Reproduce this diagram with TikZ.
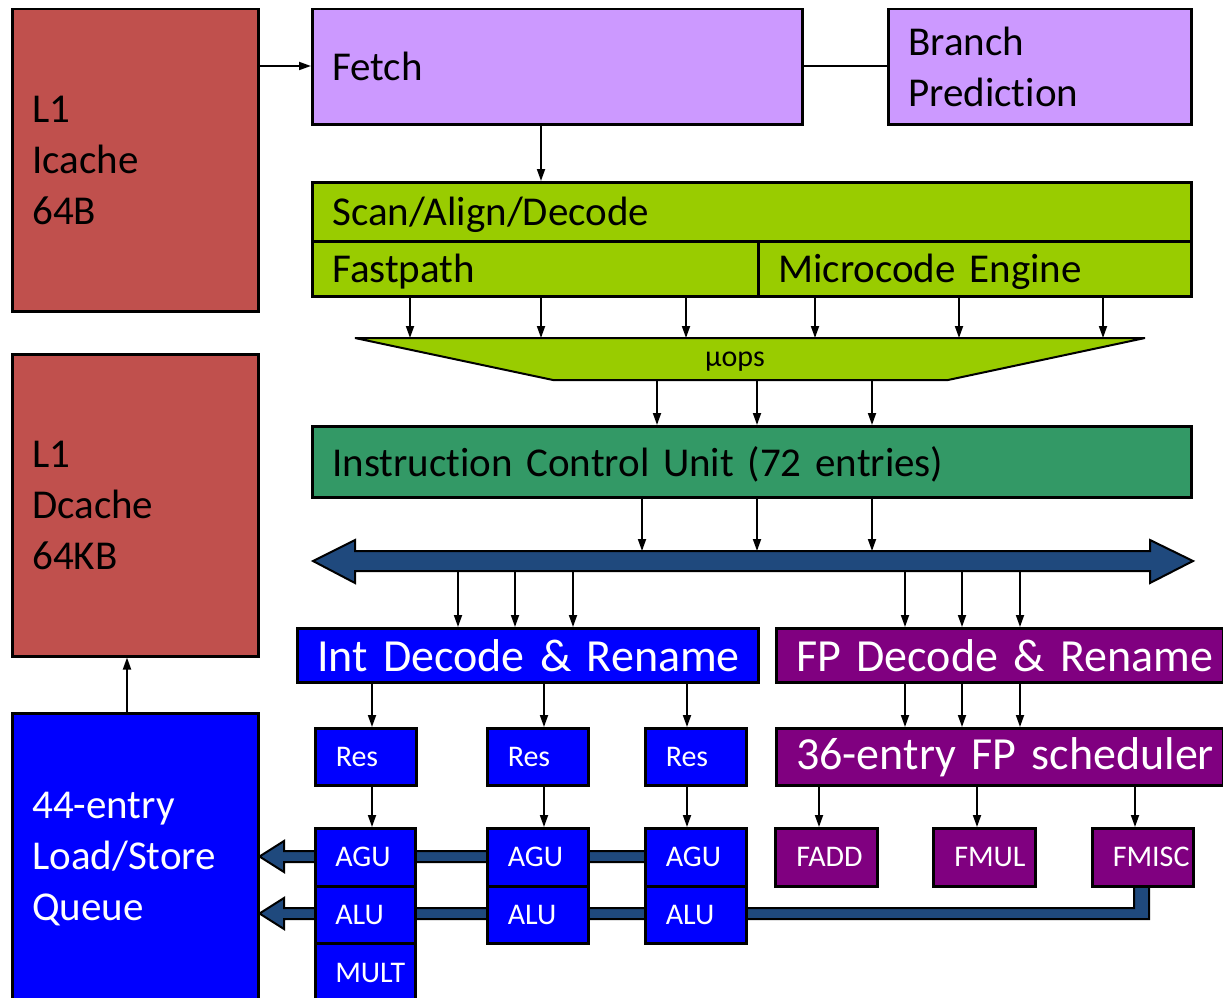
\documentclass[tikz,border=0pt]{standalone}
\usepackage{fontspec}
\setmainfont{Carlito}[Ligatures=NoCommon]
\usetikzlibrary{arrows.meta}
\definecolor{cacheRed}{HTML}{C0504D}
\definecolor{frontLav}{HTML}{CC99FF}
\definecolor{decGreen}{HTML}{99CC00}
\definecolor{icuGreen}{HTML}{339966}
\definecolor{intBlue}{HTML}{0000FF}
\definecolor{fpPurple}{HTML}{800080}
\definecolor{busBlue}{HTML}{1F497D}
\newcommand\txtMain{\fontsize{41}{51}\selectfont}
\newcommand\txtBig{\fontsize{46}{56}\selectfont}
\newcommand\txtUnit{\fontsize{30}{36}\selectfont}
\newcommand\txtOps{\fontsize{30}{36}\selectfont}
% nudge a single text line down without changing how the node centres it
\newcommand\lowered[1]{\raisebox{-3pt}[\height][\depth]{#1}}
\pgfdeclarelayer{back}
\pgfsetlayers{back,main}

\begin{document}
\begin{tikzpicture}[x=1pt,y=-1pt,
  box/.style={draw=black, line width=2.5pt, anchor=north west, inner xsep=20pt,
    inner ysep=0pt, align=left, font=\txtMain},
  unit/.style={box, font=\txtUnit, text=white, fill=intBlue, text width=60pt},
  fpunit/.style={unit, fill=fpPurple},
  arr/.style={-{Triangle[length=12pt,width=8pt]}, line width=1.8pt},
  link/.style={line width=1.8pt},
  fat/.style={fill=busBlue, draw=black, line width=2pt, line join=miter}
]
\useasboundingbox (0,0) rectangle (1223,998);

% caches
\node[box, fill=cacheRed, minimum width=246pt, minimum height=302pt, text width=206pt]
  (icache) at (11,8) {L1\\Icache\\64B};
\node[box, fill=cacheRed, minimum width=246pt, minimum height=302pt, text width=206pt]
  (dcache) at (11,353) {L1\\Dcache\\64KB};
\node[box, fill=intBlue, text=white, minimum width=246pt, minimum height=292pt, text width=206pt]
  (lsq) at (11,712) {44-entry\\Load/Store\\Queue};

% front end
\node[box, fill=frontLav, minimum width=490pt, minimum height=115pt, text width=450pt]
  (fetch) at (311,8) {Fetch};
\node[box, fill=frontLav, minimum width=303pt, minimum height=115pt, text width=263pt]
  (branch) at (887,8) {Branch\\Prediction};
\node[box, fill=decGreen, minimum width=879pt, minimum height=59pt, text width=839pt]
  (scan) at (311,181) {\lowered{Scan/Align/Decode}};
\node[box, fill=decGreen, minimum width=446pt, minimum height=55pt, text width=406pt]
  (fast) at (311,240) {\lowered{Fastpath}};
\node[box, fill=decGreen, minimum width=433pt, minimum height=55pt, text width=393pt]
  (micro) at (757,240) {\lowered{Microcode Engine}};

% micro-op funnel
\draw[fill=decGreen, line width=2pt, line join=bevel]
  (355,338) -- (1145,338) -- (948,380) -- (553,380) -- cycle;
\node[font=\txtOps, inner sep=0pt] (uops) at (735,362) {μops};
\coordinate (opsN) at (0,338);
\coordinate (opsS) at (0,380);

\node[box, fill=icuGreen, minimum width=879pt, minimum height=71pt, text width=839pt]
  (icu) at (311,425) {\lowered{Instruction Control Unit (72 entries)}};

% dispatch bus
\draw[fat] (313,561) -- (355,540) -- (355,551) -- (1150,551) -- (1150,540) -- (1193,561)
  -- (1150,583) -- (1150,571) -- (355,571) -- (355,583) -- cycle;
\coordinate (busN) at (0,551);
\coordinate (busS) at (0,571);

% integer side
\node[box, fill=intBlue, text=white, font=\txtBig, minimum width=461pt, minimum height=54pt, text width=421pt]
  (intdec) at (296,627) {\mbox{Int Decode \& Rename}};
\node[unit, minimum width=101pt, minimum height=57pt] (res1) at (314,727) {Res};
\node[unit, minimum width=101pt, minimum height=57pt] (res2) at (486,727) {Res};
\node[unit, minimum width=101pt, minimum height=57pt] (res3) at (644,727) {Res};
\node[unit, minimum width=100pt, minimum height=58pt] (agu1) at (314,827) {AGU};
\node[unit, minimum width=101pt, minimum height=58pt] (agu2) at (486,827) {AGU};
\node[unit, minimum width=101pt, minimum height=58pt] (agu3) at (644,827) {AGU};
\node[unit, minimum width=100pt, minimum height=57pt] (alu1) at (314,885) {ALU};
\node[unit, minimum width=101pt, minimum height=57pt] (alu2) at (486,885) {ALU};
\node[unit, minimum width=101pt, minimum height=57pt] (alu3) at (644,885) {ALU};
\node[unit, minimum width=100pt, minimum height=60pt] (mult) at (314,942) {\mbox{MULT}};

% floating-point side
\node[box, fill=fpPurple, text=white, font=\txtBig, minimum width=447pt, minimum height=54pt, text width=407pt]
  (fpdec) at (775,627) {\mbox{FP Decode \& Rename}};
\node[box, fill=fpPurple, text=white, font=\txtBig, minimum width=447pt, minimum height=57pt, text width=407pt]
  (fpsched) at (775,727) {\mbox{36-entry FP scheduler}};
\node[fpunit, minimum width=102pt, minimum height=58pt] (fadd) at (774,827) {\mbox{FADD}};
\node[fpunit, minimum width=102pt, minimum height=58pt] (fmul) at (932,827) {\mbox{FMUL}};
\node[fpunit, minimum width=101pt, minimum height=58pt] (fmisc) at (1091,827) {\mbox{FMISC}};

% result buses into the load/store queue
\begin{pgfonlayer}{back}
  \draw[fat] (agu3.center |- 0,851) -- (284,851) -- (284,841) -- (lsq.east |- 0,856.5)
    -- (284,872) -- (284,862) -- (agu3.center |- 0,862) -- cycle;
  \draw[fat] (fmisc.center -| 1149,0) -- (1149,919) -- (284,919) -- (284,929)
    -- (lsq.east |- 0,913.5) -- (284,898) -- (284,908) -- (1134,908)
    -- (fmisc.center -| 1134,0) -- cycle;
\end{pgfonlayer}

% connectors
\draw[arr] (icache.east |- 0,66) -- (fetch.west |- 0,66);
\draw[link] (fetch.east |- 0,66) -- (branch.west |- 0,66);
\draw[arr] (fetch.south -| 541,0) -- (scan.north -| 541,0);
\foreach \x in {410,541,686}
  \draw[arr] (fast.south -| \x,0) -- (opsN -| \x,0);
\foreach \x in {815,959,1103}
  \draw[arr] (micro.south -| \x,0) -- (opsN -| \x,0);
\foreach \x in {657,757,872}
  \draw[arr] (opsS -| \x,0) -- (icu.north -| \x,0);
\foreach \x in {642,757,872}
  \draw[arr] (icu.south -| \x,0) -- (busN -| \x,0);
\foreach \x in {458,515,573}
  \draw[arr] (busS -| \x,0) -- (intdec.north -| \x,0);
\foreach \x in {905,962,1020}
  \draw[arr] (busS -| \x,0) -- (fpdec.north -| \x,0);
\draw[arr] (intdec.south -| 372,0) -- (res1.north -| 372,0);
\draw[arr] (intdec.south -| 544,0) -- (res2.north -| 544,0);
\draw[arr] (intdec.south -| 687,0) -- (res3.north -| 687,0);
\draw[arr] (res1.south -| 372,0) -- (agu1.north -| 372,0);
\draw[arr] (res2.south -| 544,0) -- (agu2.north -| 544,0);
\draw[arr] (res3.south -| 687,0) -- (agu3.north -| 687,0);
\foreach \x in {905,962,1020}
  \draw[arr] (fpdec.south -| \x,0) -- (fpsched.north -| \x,0);
\draw[arr] (fpsched.south -| 819,0) -- (fadd.north -| 819,0);
\draw[arr] (fpsched.south -| 977,0) -- (fmul.north -| 977,0);
\draw[arr] (fpsched.south -| 1135,0) -- (fmisc.north -| 1135,0);
\draw[arr] (lsq.north -| 127,0) -- (dcache.south -| 127,0);
\end{tikzpicture}
\end{document}
